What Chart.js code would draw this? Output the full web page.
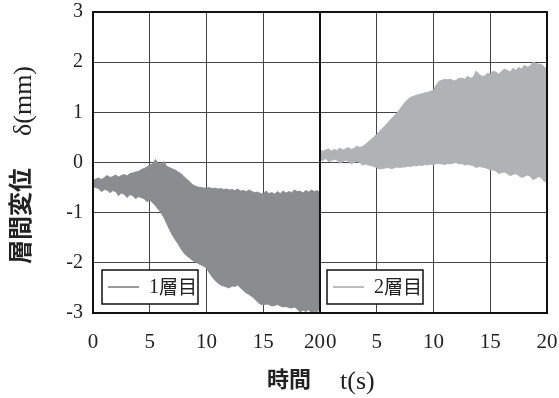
<!DOCTYPE html>
<html>
<head>
<meta charset="utf-8">
<script src="https://cdn.jsdelivr.net/npm/chart.js@4.4.0/dist/chart.umd.min.js"></script>
<style>
  html, body { margin: 0; padding: 0; background: #fff; }
  #wrap { position: relative; width: 559px; height: 398px; }
  canvas { display: block; }
</style>
</head>
<body>
<div id="wrap"><canvas id="drift" width="559" height="398"></canvas></div>
<script>
// Sample times (s) for the envelope of each storey's response
const timeS = [
  0, 0.25, 0.5, 0.75,  1, 1.25, 1.5, 1.75,  2, 2.25, 2.5, 2.75,  3, 3.25, 3.5, 3.75,
  4, 4.25, 4.5, 4.75,  5, 5.25, 5.5, 5.75,  6, 6.25, 6.5, 6.75,  7, 7.25, 7.5, 7.75,
  8, 8.25, 8.5, 8.75,  9, 9.25, 9.5, 9.75,  10, 10.25, 10.5, 10.75,  11, 11.25, 11.5, 11.75,
  12, 12.25, 12.5, 12.75,  13, 13.25, 13.5, 13.75,  14, 14.25, 14.5, 14.75,  15, 15.25, 15.5, 15.75,
  16, 16.25, 16.5, 16.75,  17, 17.25, 17.5, 17.75,  18, 18.25, 18.5, 18.75,  19, 19.25, 19.5, 19.75,
  20
];

// 1st storey drift envelope (mm): upper / lower bound of the oscillation
const story1Upper = [
  -0.36,-0.33,-0.31,-0.34, -0.30,-0.26,-0.30,-0.28, -0.25,-0.29,-0.26,-0.24, -0.27,-0.22,-0.21,-0.19,
  -0.18,-0.14,-0.12,-0.09, -0.05,-0.03, 0.06,-0.02, -0.03, 0.02,-0.08,-0.10, -0.13,-0.15,-0.19,-0.22,
  -0.28,-0.33,-0.38,-0.44, -0.47,-0.49,-0.50,-0.51, -0.51,-0.50,-0.52,-0.51, -0.53,-0.52,-0.54,-0.53,
  -0.55,-0.54,-0.56,-0.53, -0.57,-0.56,-0.58,-0.55, -0.58,-0.60,-0.59,-0.62, -0.63,-0.57,-0.62,-0.60,
  -0.63,-0.58,-0.62,-0.57, -0.61,-0.58,-0.60,-0.55, -0.58,-0.57,-0.61,-0.56, -0.59,-0.55,-0.58,-0.56,
  -0.60
];
const story1Lower = [
  -0.48,-0.50,-0.52,-0.58, -0.54,-0.55,-0.60,-0.56, -0.58,-0.66,-0.61,-0.63, -0.70,-0.64,-0.66,-0.72,
  -0.68,-0.70,-0.72,-0.78, -0.75,-0.80,-0.86,-0.93, -1.00,-1.10,-1.22,-1.34, -1.45,-1.54,-1.62,-1.72,
  -1.80,-1.86,-1.90,-1.95, -1.98,-2.01,-2.04,-2.07, -2.10,-2.20,-2.28,-2.35, -2.40,-2.44,-2.46,-2.48,
  -2.50,-2.46,-2.47,-2.44, -2.50,-2.55,-2.60,-2.63, -2.67,-2.72,-2.78,-2.82, -2.84,-2.82,-2.83,-2.86,
  -2.85,-2.83,-2.86,-2.88, -2.87,-2.89,-2.90,-2.88, -2.92,-2.98,-2.94,-2.97, -2.93,-3.00,-2.96,-2.99,
  -2.88
];

// 2nd storey drift envelope (mm)
const story2Upper = [
  0.26,0.22,0.25,0.27, 0.23,0.26,0.24,0.29, 0.25,0.27,0.30,0.26, 0.28,0.33,0.30,0.32,
  0.36,0.41,0.46,0.51, 0.56,0.62,0.68,0.74, 0.80,0.86,0.92,0.98, 1.05,1.13,1.20,1.26,
  1.30,1.32,1.34,1.36, 1.37,1.39,1.40,1.42, 1.44,1.55,1.62,1.64, 1.66,1.65,1.66,1.63,
  1.64,1.68,1.68,1.66, 1.72,1.68,1.70,1.82, 1.76,1.72,1.72,1.78, 1.76,1.82,1.80,1.76,
  1.82,1.86,1.84,1.80, 1.88,1.84,1.90,1.86, 1.94,1.90,1.92,2.00, 1.98,1.96,1.96,1.90,
  1.86
];
const story2Lower = [
  0.06,0.04,0.08,0.02, 0.04,0.06,0.05,-0.02, 0.02,0.04,0.03,-0.03, 0.00,0.02,0.00,-0.05,
  -0.03,-0.05,-0.06,-0.08, -0.10,-0.13,-0.12,-0.11, -0.10,-0.12,-0.11,-0.09, -0.10,-0.09,-0.09,-0.07,
  -0.08,-0.06,-0.07,-0.05, -0.06,-0.04,-0.05,-0.03, -0.05,-0.02,-0.02,-0.03, -0.04,-0.02,-0.03,-0.01,
  0.00,-0.03,-0.02,-0.05, -0.04,-0.05,-0.06,-0.10, -0.08,-0.09,-0.10,-0.12, -0.14,-0.15,-0.17,-0.22,
  -0.20,-0.19,-0.22,-0.26, -0.24,-0.22,-0.26,-0.30, -0.28,-0.25,-0.27,-0.34, -0.32,-0.28,-0.30,-0.38,
  -0.36
];

const seriesNames = ['1層目', '2層目'];
const xTickValues = [0, 5, 10, 15, 20];
const yRange = [-3, 3];

const fillColors = ['#8b8c8f', '#b1b2b6'];
const legendLineColors = ['#9a9a9a', '#bdbdbd'];
const SERIF = '"Liberation Serif", "Times New Roman", serif';
const GOTHIC = '"Noto Sans CJK JP", "Noto Sans", sans-serif';

const pts = (ys) => timeS.map((t, i) => ({ x: t, y: ys[i] }));

function band(label, axis, upper, lower, color) {
  return [
    { label, xAxisID: axis, data: pts(upper), borderColor: color, backgroundColor: color,
      borderWidth: 1, pointRadius: 0, tension: 0, fill: '+1' },
    { label: label + ' lower', xAxisID: axis, data: pts(lower), borderColor: color, backgroundColor: color,
      borderWidth: 1, pointRadius: 0, tension: 0, fill: false }
  ];
}

const xAxis = () => ({
  type: 'linear', position: 'bottom', stack: 'time', stackWeight: 1,
  min: 0, max: 20,
  ticks: { display: false, stepSize: 5 },
  grid: { color: '#444', lineWidth: 1, drawTicks: false },
  border: { display: false },
  afterFit(scale) { scale.height = 0; scale.paddingLeft = 0; scale.paddingRight = 0; }
});

// Draws x tick labels, panel frames, legends and axis titles
const decorations = {
  id: 'decorations',
  afterDatasetsDraw(chart) {
    const { ctx, chartArea } = chart;
    const panels = [chart.scales.x1, chart.scales.x2];
    ctx.save();
    // panel frames
    ctx.strokeStyle = '#111';
    ctx.lineWidth = 2;
    panels.forEach(s => {
      ctx.strokeRect(s.left, chartArea.top, s.right - s.left, chartArea.bottom - chartArea.top);
    });
    // x tick labels
    ctx.fillStyle = '#222';
    ctx.font = '21px ' + SERIF;
    ctx.textBaseline = 'alphabetic';
    panels.forEach((s, pi) => {
      xTickValues.forEach(v => {
        const px = s.getPixelForValue(v);
        let align = 'center', x = px;
        if (pi === 0 && v === s.max) { align = 'right'; x = px + 5; }
        if (pi === 1 && v === s.min) { align = 'left'; x = px + 6; }
        ctx.textAlign = align;
        ctx.fillText(String(v), x, chartArea.bottom + 35);
      });
    });
    // legends
    panels.forEach((s, pi) => {
      const bx = s.left + (pi === 0 ? 9 : 7);
      const by = chartArea.bottom - 43;
      const bw = 96, bh = 34;
      ctx.fillStyle = '#fff';
      ctx.fillRect(bx, by, bw, bh);
      ctx.strokeStyle = '#111';
      ctx.lineWidth = 1.5;
      ctx.strokeRect(bx, by, bw, bh);
      ctx.strokeStyle = legendLineColors[pi];
      ctx.lineWidth = 2;
      ctx.beginPath();
      ctx.moveTo(bx + 6, by + 17);
      ctx.lineTo(bx + 37, by + 17);
      ctx.stroke();
      const name = seriesNames[pi];
      const num = name.charAt(0), rest = name.slice(1);
      ctx.fillStyle = '#222';
      ctx.textAlign = 'left';
      ctx.textBaseline = 'middle';
      ctx.font = '20px ' + SERIF;
      const nx = bx + 47;
      ctx.fillText(num, nx, by + 18);
      const nw = ctx.measureText(num).width;
      ctx.font = '19px ' + GOTHIC;
      ctx.fillText(rest, nx + nw, by + 17);
    });
    // x axis title
    ctx.fillStyle = '#222';
    ctx.textBaseline = 'middle';
    ctx.textAlign = 'left';
    ctx.font = 'bold 22px ' + GOTHIC;
    ctx.fillText('時間', 267, 379);
    ctx.font = '26px ' + SERIF;
    ctx.fillText('t(s)', 340, 382);
    // y axis title (rotated)
    ctx.save();
    ctx.translate(20, 216);
    ctx.rotate(-Math.PI / 2);
    ctx.textAlign = 'center';
    ctx.font = 'bold 24px ' + GOTHIC;
    ctx.fillText('層間変位', 0, 0);
    ctx.restore();
    ctx.save();
    ctx.translate(24, 101);
    ctx.rotate(-Math.PI / 2);
    ctx.textAlign = 'center';
    ctx.font = '26px ' + SERIF;
    ctx.fillText('δ(mm)', 0, 0);
    ctx.restore();
    ctx.restore();
  }
};

new Chart(document.getElementById('drift'), {
  type: 'line',
  data: {
    datasets: [
      ...band(seriesNames[0], 'x1', story1Upper, story1Lower, fillColors[0]),
      ...band(seriesNames[1], 'x2', story2Upper, story2Lower, fillColors[1])
    ]
  },
  options: {
    responsive: false,
    animation: false,
    devicePixelRatio: 1,
    layout: { padding: { left: 0, top: 12, right: 12, bottom: 85 } },
    plugins: { legend: { display: false }, tooltip: { enabled: false } },
    scales: {
      x1: xAxis(),
      x2: xAxis(),
      y: {
        min: yRange[0], max: yRange[1],
        ticks: { stepSize: 1, color: '#222', font: { family: SERIF, size: 20 }, padding: 10 },
        grid: { color: '#444', lineWidth: 1, drawTicks: false },
        border: { display: false },
        afterFit(scale) { scale.width = 93; scale.paddingTop = 0; scale.paddingBottom = 0; }
      }
    }
  },
  plugins: [decorations]
});
</script>
</body>
</html>
